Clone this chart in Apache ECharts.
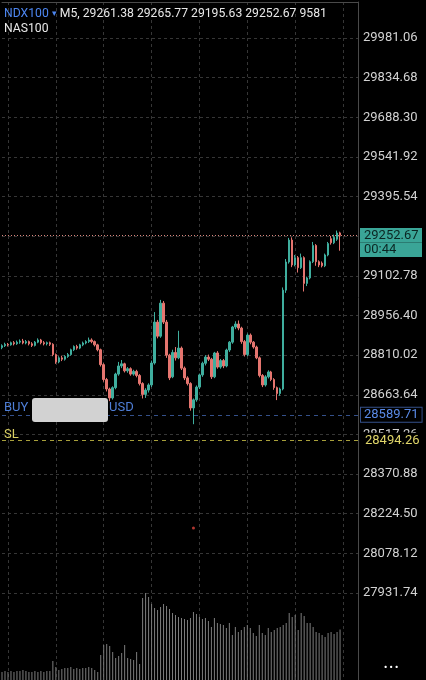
<!DOCTYPE html>
<html>
<head>
<meta charset="utf-8">
<script src="https://cdn.jsdelivr.net/npm/echarts@6/dist/echarts.min.js"></script>
<style>
html,body{margin:0;padding:0;background:#000;}
#chart{width:426px;height:680px;}
</style>
</head>
<body>
<div id="chart"></div>
<script>
// ---- data ----
const symbol = 'NDX100';
const symbolAlt = 'NAS100';
const timeframe = 'M5';
const timer = '00:44';
const buyPrice = 28589.71;
const slPrice = 28494.26;
const axisMin = 27931.74;
const axisMax = 30113.99;
const axisStep = 146.38;
const lastVolume = 9581;

const opens = [
28838,28845,28850,28848,28856,28852,28858,28862,28855,28860,
28852,28846,28858,28866,28856,28852,28856,28850,28812,28785,
28800,28795,28805,28812,28830,28842,28836,28848,28855,28860,
28866,28860,28848,28830,28775,28720,28685,28652,28690,28740,
28770,28778,28752,28760,28740,28750,28735,28705,28665,28681,
28700,28781,28932,28880,29002,28932,28810,28730,28820,28800,
28836,28762,28726,28705,28615,28645,28692,28737,28780,28803,
28795,28730,28818,28766,28790,28770,28829,28858,28914,28925,
28910,28860,28812,28884,28858,28840,28800,28735,28700,28730,
28748,28720,28690,28668,28685,29050,29154,29235,29143,29170,
29133,29170,29075,29095,29155,29215,29155,29150,29140,29180,
29240,29225,29238,29261.38];
const closes = [
28845,28850,28848,28856,28852,28858,28862,28855,28860,28852,
28846,28858,28866,28856,28852,28856,28850,28812,28785,28800,
28795,28805,28812,28830,28842,28836,28848,28855,28860,28866,
28860,28848,28830,28775,28720,28685,28652,28690,28740,28770,
28778,28752,28760,28740,28750,28735,28705,28665,28681,28700,
28781,28932,28880,29002,28932,28810,28726,28820,28800,28836,
28762,28726,28705,28615,28645,28692,28737,28780,28803,28795,
28730,28818,28766,28790,28770,28829,28858,28914,28925,28910,
28860,28812,28884,28858,28840,28800,28735,28700,28730,28748,
28720,28690,28668,28685,29050,29154,29235,29143,29170,29133,
29170,29075,29095,29155,29215,29155,29143,29140,29180,29222,
29225,29245,29261,29252.67];
const lows = [
28832,28840,28842,28845,28846,28848,28852,28850,28850,28846,
28840,28842,28854,28850,28846,28846,28844,28806,28778,28780,
28788,28790,28800,28808,28825,28830,28832,28843,28850,28855,
28854,28842,28824,28768,28712,28676,28640,28646,28684,28734,
28762,28746,28745,28734,28734,28728,28698,28650,28652,28672,
28692,28775,28872,28874,28925,28800,28718,28725,28790,28795,
28755,28718,28698,28605,28555,28638,28685,28730,28772,28788,
28722,28725,28760,28760,28762,28765,28822,28852,28906,28902,
28852,28805,28806,28850,28834,28795,28728,28692,28694,28724,
28714,28682,28644,28660,28680,29040,29148,29135,29138,29115,
29128,29045,29065,29090,29150,29140,29135,29134,29135,29175,
29218,29220,29232,29195.63];
const highs = [
28850,28856,28855,28860,28862,28864,28868,28870,28866,28864,
28858,28862,28872,28870,28862,28860,28860,28854,28816,28806,
28808,28810,28818,28834,28846,28848,28852,28860,28865,28875,
28872,28864,28852,28834,28780,28726,28690,28695,28745,28785,
28792,28782,28766,28765,28756,28756,28740,28710,28688,28706,
28790,28969,28940,29014,29010,28940,28815,28830,28840,28900,
28842,28768,28732,28710,28650,28698,28742,28786,28810,28812,
28800,28822,28825,28796,28796,28834,28862,28918,28935,28938,
28915,28866,28890,28890,28862,28845,28805,28740,28736,28754,
28752,28725,28694,28690,29060,29165,29243,29245,29180,29176,
29185,29175,29100,29160,29228,29220,29160,29156,29185,29228,
29250,29255,29270,29265.77];
const volumes = [
1520,1710,1520,1710,1520,1710,1710,1900,1710,1520,
1520,1710,1520,1710,1520,1710,1710,3610,2470,1900,
2090,2280,2280,2470,2090,2280,2090,2280,2280,2470,
2280,1900,1520,4750,6650,6840,6460,5320,4180,4560,
5130,6650,4180,3990,3800,5320,3040,15580,16530,15770,
14440,13680,13300,13870,14440,14060,13490,12730,12350,11970,
11780,11590,11400,11780,12920,12540,11970,11590,11780,11210,
10070,11780,10830,10640,10450,9880,10830,8550,10070,9120,
9500,10070,10450,9880,8930,8360,10450,8930,8550,9880,
9120,9500,9880,10070,10450,10830,12730,11970,12350,9500,
12730,12160,10830,10830,10070,9120,8930,8550,8170,8930,
9120,8740,9120,lastVolume];
const dotPoint = [64, 28171.8];

// ---- build ----
const nSlots = 120;
const categories = [];
for (let i = 0; i < nSlots; i++) categories.push(String(i));
const candles = opens.map((o, i) => [o, closes[i], lows[i], highs[i]]);
const last = opens.length - 1;
const lastPrice = closes[last];

const up = '#3fae9e', down = '#e5756f';
const gridLine = { show: true, lineStyle: { color: '#363636', type: [3, 3], width: 1 } };
const vInterval = (idx) => idx % 16 === 2;
const tagStyle = { backgroundColor: '#3aa597', color: '#0b2623', fontSize: 13, fontFamily: 'Roboto', width: 58, height: 14.5, lineHeight: 14.5, padding: [0, 0, 0, 4] };
const hdr = { fontSize: 12.2, fontFamily: 'Roboto', fontWeight: 'normal', lineHeight: 15 };

const chart = echarts.init(document.getElementById('chart'), null, { renderer: 'canvas' });
chart.setOption({
  backgroundColor: '#000',
  animation: false,
  title: {
    left: 4, top: 6, padding: 0,
    text: '{a|' + symbol + '} {t|▾} {b|' + timeframe + ', ' + opens[last].toFixed(2) + ' ' + highs[last].toFixed(2) + ' ' + lows[last].toFixed(2) + ' ' + closes[last].toFixed(2) + ' ' + volumes[last] + '}\n{b|' + symbolAlt + '}',
    textStyle: {
      fontFamily: 'Roboto', fontSize: 12.2, fontWeight: 'normal', lineHeight: 15,
      rich: {
        a: Object.assign({ color: '#4d86f0' }, hdr),
        t: Object.assign({}, hdr, { color: '#4d86f0', fontSize: 9 }),
        b: Object.assign({ color: '#e8e8e8' }, hdr)
      }
    }
  },
  grid: [
    { left: 2, right: 68, top: 2, bottom: 87 },
    { left: 2, right: 68, top: 590, bottom: 0 }
  ],
  xAxis: [
    {
      type: 'category', gridIndex: 0, data: categories, boundaryGap: false, position: 'top',
      axisLine: { show: true, lineStyle: { color: '#4a4a4a' } },
      axisTick: { show: false }, axisLabel: { show: false },
      splitLine: Object.assign({ interval: vInterval }, gridLine)
    },
    {
      type: 'category', gridIndex: 1, data: categories, boundaryGap: false,
      axisLine: { show: false }, axisTick: { show: false }, axisLabel: { show: false },
      splitLine: Object.assign({ interval: vInterval }, gridLine)
    }
  ],
  yAxis: [
    {
      type: 'value', gridIndex: 0, position: 'right', scale: true,
      min: axisMin, max: axisMax, interval: axisStep,
      axisLine: { show: true, lineStyle: { color: '#4a4a4a' } },
      axisTick: { show: false },
      axisLabel: {
        color: '#d2d2d2', fontSize: 13, fontFamily: 'Roboto', margin: 5,
        showMaxLabel: false, formatter: (v) => v.toFixed(2)
      },
      splitLine: gridLine
    },
    {
      type: 'value', gridIndex: 1, position: 'right', min: 0, max: 17100,
      axisLine: { show: true, lineStyle: { color: '#4a4a4a' } },
      axisTick: { show: false }, axisLabel: { show: false }, splitLine: { show: false }
    }
  ],
  series: [
    {
      type: 'candlestick', xAxisIndex: 0, yAxisIndex: 0, data: candles, barWidth: 2,
      itemStyle: { color: up, color0: down, borderColor: up, borderColor0: down, borderWidth: 1 },
      markLine: {
        silent: true, symbol: ['none', 'none'], animation: false,
        data: [
          {
            yAxis: lastPrice,
            lineStyle: { color: '#d9857c', type: [1, 2], width: 1 },
            label: {
              show: true, position: 'end', distance: 2,
              formatter: '{e|\u00a0}\n{p|' + lastPrice.toFixed(2) + '}\n{t|' + timer + '}',
              rich: {
                e: { height: 14.5, lineHeight: 14.5, fontSize: 13 },
                p: tagStyle,
                t: tagStyle
              }
            }
          },
          {
            yAxis: buyPrice,
            lineStyle: { color: '#34508a', type: [4, 4], width: 1 },
            label: {
              show: true, position: 'end', distance: 3,
              formatter: buyPrice.toFixed(2),
              color: '#5a8ae6', fontSize: 13, fontFamily: 'Roboto',
              backgroundColor: '#000', borderColor: '#34508a', borderWidth: 1, padding: [1, 3, 0, 3]
            }
          },
          {
            yAxis: slPrice,
            lineStyle: { color: '#a89f3a', type: [4, 4], width: 1 },
            label: {
              show: true, position: 'end', distance: 3,
              formatter: slPrice.toFixed(2),
              color: '#e0d66a', fontSize: 13, fontFamily: 'Roboto',
              backgroundColor: '#000', padding: [2, 4, 1, 4]
            }
          }
        ]
      }
    },
    {
      type: 'scatter', xAxisIndex: 0, yAxisIndex: 0, data: [dotPoint],
      symbolSize: 3, itemStyle: { color: '#e0453c' }, silent: true
    },
    {
      type: 'bar', xAxisIndex: 1, yAxisIndex: 1, data: volumes, barWidth: 1,
      itemStyle: { color: '#7d7d7d' }, silent: true
    }
  ],
  graphic: [
    { type: 'text', z: 100, left: 4, top: 401, style: { text: 'BUY', fill: '#4f7fd8', font: '13px Roboto' } },
    { type: 'rect', z: 100, left: 32, top: 398, shape: { width: 76, height: 24, r: 3 }, style: { fill: '#d2d2d2' } },
    { type: 'text', z: 100, left: 109, top: 401, style: { text: 'USD', fill: '#4f7fd8', font: '13px Roboto' } },
    { type: 'text', z: 100, left: 4, top: 428, style: { text: 'SL', fill: '#d9cf62', font: '13px Roboto' } },
    { type: 'text', z: 100, left: 384, top: 663, style: { text: '• • •', fill: '#ffffff', font: 'bold 9px Roboto' } }
  ]
});
</script>
</body>
</html>
